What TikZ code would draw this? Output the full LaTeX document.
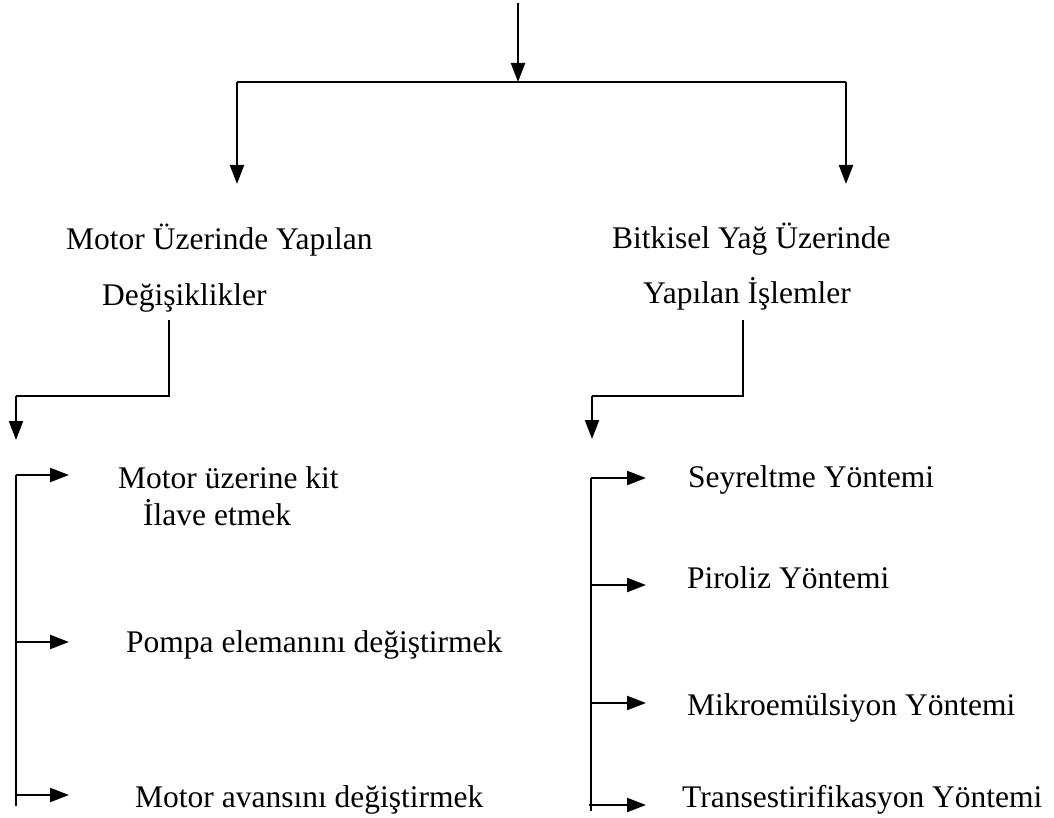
\documentclass[tikz,border=0pt]{standalone}
\usepackage{fontspec}
\setmainfont{Liberation Serif}
\usetikzlibrary{arrows.meta}
\tikzset{
  line/.style={line width=2.2pt},
  arr/.style={line width=2.2pt,-{Triangle[length=19pt,width=14pt]}},
  lbl/.style={anchor=base west,inner sep=0pt,font=\fontsize{31.5}{38}\selectfont}
}
\begin{document}
\begin{tikzpicture}[x=1pt,y=-1pt]
\useasboundingbox (0,0) rectangle (1054,818);
% top
\coordinate (top) at (518,3);
\coordinate (jc) at (518,82);
\coordinate (jl) at (237,82);
\coordinate (jr) at (846,82);
\coordinate (tl) at (237,184);
\coordinate (tr) at (846,184);
\draw[arr] (top) -- (jc);
\draw[line] (jl) -- (jr);
\draw[arr] (jl) -- (tl);
\draw[arr] (jr) -- (tr);
% headers
\node[lbl] (h1a) at (66,250) {Motor Üzerinde Yapılan};
\node[lbl] (h1b) at (102,305) {Değişiklikler};
\node[lbl] (h2a) at (612,249) {Bitkisel Yağ Üzerinde};
\node[lbl] (h2b) at (643,303) {Yapılan İşlemler};
% left connector
\coordinate (l1) at (169,320);
\coordinate (l2) at (169,396);
\coordinate (l3) at (16,396);
\coordinate (l4) at (16,440);
\draw[line] (l1) -- (l2) -- (l3);
\draw[arr] (l3) -- (l4);
% right connector
\coordinate (r1) at (743,320);
\coordinate (r2) at (743,396);
\coordinate (r3) at (592,396);
\coordinate (r4) at (592,439);
\draw[line] (r1) -- (r2) -- (r3);
\draw[arr] (r3) -- (r4);
% left list
\node[lbl] (a1) at (118,488) {Motor üzerine kit};
\node[lbl] (a1b) at (143,525) {İlave etmek};
\node[lbl] (a2) at (126,652) {Pompa elemanını değiştirmek};
\node[lbl] (a3) at (135,807) {Motor avansını değiştirmek};
\coordinate (lv1) at (16,475);
\coordinate (lv2) at (16,642);
\coordinate (lv3) at (16,795);
\coordinate (lv4) at (16,806);
\coordinate (la1) at (69,475);
\coordinate (la2) at (69,642);
\coordinate (la3) at (69,795);
\draw[line] (lv1) -- (lv4);
\draw[arr] (lv1) -- (la1);
\draw[arr] (lv2) -- (la2);
\draw[arr] (lv3) -- (la3);
% right list
\node[lbl] (b1) at (688,487) {Seyreltme Yöntemi};
\node[lbl] (b2) at (687,588) {Piroliz Yöntemi};
\node[lbl] (b3) at (687,715) {Mikroemülsiyon Yöntemi};
\node[lbl] (b4) at (682,807) {Transestirifikasyon Yöntemi};
\coordinate (rv1) at (591,478);
\coordinate (rv2) at (591,585);
\coordinate (rv3) at (591,703);
\coordinate (rv4) at (589,805);
\coordinate (rv5) at (591,811);
\coordinate (ra1) at (646,478);
\coordinate (ra2) at (646,585);
\coordinate (ra3) at (646,703);
\coordinate (ra4) at (646,805);
\draw[line] (rv1) -- (rv5);
\draw[arr] (rv1) -- (ra1);
\draw[arr] (rv2) -- (ra2);
\draw[arr] (rv3) -- (ra3);
\draw[arr] (rv4) -- (ra4);
\end{tikzpicture}
\end{document}
